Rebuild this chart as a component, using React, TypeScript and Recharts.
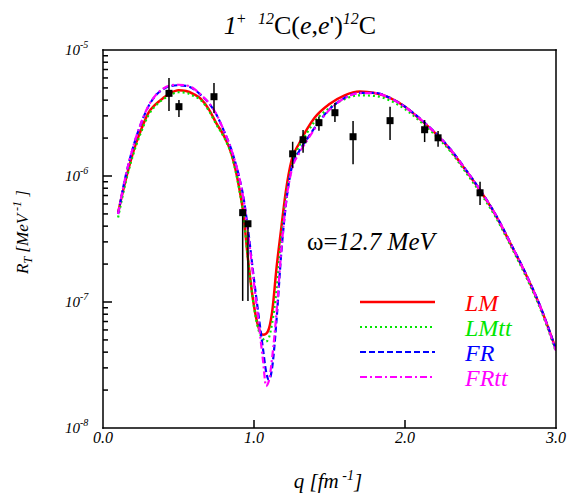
import React from "react";
import { ComposedChart, Line, Scatter, ErrorBar, XAxis, YAxis } from "recharts";

const Q = [0.1, 0.15, 0.2, 0.25, 0.3, 0.35, 0.4, 0.45, 0.5, 0.55, 0.6, 0.65, 0.7, 0.75, 0.8, 0.85, 0.9, 0.93, 0.96, 1.0, 1.03, 1.06, 1.08, 1.1, 1.12, 1.15, 1.18, 1.21, 1.25, 1.3, 1.35, 1.4, 1.5, 1.6, 1.7, 1.8, 1.9, 2.0, 2.1, 2.2, 2.3, 2.4, 2.5, 2.6, 2.7, 2.8, 2.9, 3.0];
const LM = [5.13e-7, 9.3e-7, 1.55e-6, 2.29e-6, 3.16e-6, 3.72e-6, 4.17e-6, 4.57e-6, 4.79e-6, 4.73e-6, 4.47e-6, 4.07e-6, 3.39e-6, 2.63e-6, 2.09e-6, 1.51e-6, 8.3e-7, 5.0e-7, 2.2e-7, 9.3e-8, 6.3e-8, 5.5e-8, 5.6e-8, 6.2e-8, 8.3e-8, 1.9e-7, 3.8e-7, 7.4e-7, 1.35e-6, 1.82e-6, 2.34e-6, 2.88e-6, 3.72e-6, 4.37e-6, 4.68e-6, 4.55e-6, 4.17e-6, 3.55e-6, 2.82e-6, 2.19e-6, 1.62e-6, 1.12e-6, 7.6e-7, 4.9e-7, 2.88e-7, 1.66e-7, 8.9e-8, 4.2e-8];
const LMtt = [4.68e-7, 8.9e-7, 1.48e-6, 2.19e-6, 3.02e-6, 3.63e-6, 4.07e-6, 4.42e-6, 4.62e-6, 4.57e-6, 4.32e-6, 3.98e-6, 3.31e-6, 2.57e-6, 2.04e-6, 1.48e-6, 8.1e-7, 4.9e-7, 2.19e-7, 9.1e-8, 6.0e-8, 5.1e-8, 4.85e-8, 5.25e-8, 6.8e-8, 1.26e-7, 3.2e-7, 6.6e-7, 1.2e-6, 1.74e-6, 2.19e-6, 2.69e-6, 3.47e-6, 4.07e-6, 4.37e-6, 4.32e-6, 3.98e-6, 3.39e-6, 2.72e-6, 2.11e-6, 1.57e-6, 1.08e-6, 7.3e-7, 4.73e-7, 2.79e-7, 1.6e-7, 8.6e-8, 4.0e-8];
const FR = [5.0e-7, 1.0e-6, 1.7e-6, 2.57e-6, 3.55e-6, 4.37e-6, 4.9e-6, 5.19e-6, 5.25e-6, 5.19e-6, 4.9e-6, 4.37e-6, 3.8e-6, 3.09e-6, 2.29e-6, 1.62e-6, 1.0e-6, 6.8e-7, 3.8e-7, 1.51e-7, 7.9e-8, 4.2e-8, 2.8e-8, 2.4e-8, 3.0e-8, 7.4e-8, 2.4e-7, 5.75e-7, 1.17e-6, 1.58e-6, 1.95e-6, 2.4e-6, 3.39e-6, 4.17e-6, 4.57e-6, 4.57e-6, 4.17e-6, 3.55e-6, 2.85e-6, 2.21e-6, 1.64e-6, 1.135e-6, 7.67e-7, 4.95e-7, 2.92e-7, 1.68e-7, 9.0e-8, 4.2e-8];
const FRtt = [5.0e-7, 1.0e-6, 1.71e-6, 2.6e-6, 3.58e-6, 4.4e-6, 4.95e-6, 5.24e-6, 5.3e-6, 5.24e-6, 4.95e-6, 4.4e-6, 3.82e-6, 3.1e-6, 2.3e-6, 1.62e-6, 1.0e-6, 6.6e-7, 3.6e-7, 1.4e-7, 7.0e-8, 3.4e-8, 2.15e-8, 2.4e-8, 3.6e-8, 8.5e-8, 2.5e-7, 5.9e-7, 1.12e-6, 1.52e-6, 1.9e-6, 2.35e-6, 3.35e-6, 4.15e-6, 4.55e-6, 4.55e-6, 4.15e-6, 3.53e-6, 2.84e-6, 2.2e-6, 1.63e-6, 1.13e-6, 7.65e-7, 4.93e-7, 2.9e-7, 1.67e-7, 8.9e-8, 4.1e-8];

const EXP_Q = [0.437, 0.503, 0.735, 0.925, 0.96, 1.256, 1.325, 1.43, 1.536, 1.656, 1.901, 2.13, 2.219, 2.497];
const EXP_R = [4.53e-6, 3.55e-6, 4.26e-6, 5.12e-7, 4.18e-7, 1.5e-6, 1.94e-6, 2.65e-6, 3.18e-6, 2.05e-6, 2.75e-6, 2.33e-6, 2.01e-6, 7.36e-7];
const EXP_LO = [3.28e-6, 2.94e-6, 3.16e-6, 1.02e-7, 1.02e-7, 1.16e-6, 1.53e-6, 2.29e-6, 2.68e-6, 1.24e-6, 1.93e-6, 1.86e-6, 1.71e-6, 5.89e-7];
const EXP_HI = [6.0e-6, 4.01e-6, 5.47e-6, 5.4e-7, 4.4e-7, 1.87e-6, 2.32e-6, 2.96e-6, 3.79e-6, 2.73e-6, 3.55e-6, 2.78e-6, 2.28e-6, 9.01e-7];

const X_TICKS = [0, 1, 2, 3];
const Y_MAJOR = [1e-8, 1e-7, 1e-6, 1e-5];
const Y_TICKS: number[] = [];
[1e-8, 1e-7, 1e-6].forEach((d) => {
  for (let m = 1; m <= 9; m++) Y_TICKS.push(d * m);
});
Y_TICKS.push(1e-5);

const curveData = Q.map((q, i) => ({ q, LM: LM[i], LMtt: LMtt[i], FR: FR[i], FRtt: FRtt[i] }));
const expData = EXP_Q.map((q, i) => ({ q, r: EXP_R[i], err: [EXP_R[i] - EXP_LO[i], EXP_HI[i] - EXP_R[i]] }));

const FONT = "'Liberation Serif', 'DejaVu Serif', serif";
const W = 569;
const H = 499;
const PL = 103;
const PR = 556;
const PT = 50;
const PB = 428;
const T = 1.5; // frame/tick thickness (drawn as filled rects)

const isMajor = (v: number) => {
  const e = Math.round(Math.log10(v));
  return Math.abs(v - Math.pow(10, e)) / v < 1e-6;
};

const BottomTick = (props: any) => {
  const { x, y, payload } = props;
  const v = payload.value;
  return (
    <g>
      {v > 0 && v < 3 && <rect x={x - T / 2} y={y - 8} width={T} height={8} fill="#000" />}
      <text x={x} y={y + 15} textAnchor="middle" fontFamily={FONT} fontStyle="italic" fontSize={16} fill="#000">
        {v.toFixed(1)}
      </text>
    </g>
  );
};

const TopTick = (props: any) => {
  const { x, y, payload } = props;
  const v = payload.value;
  if (!(v > 0 && v < 3)) return <g />;
  return <rect x={x - T / 2} y={y} width={T} height={8} fill="#000" />;
};

const LeftTick = (props: any) => {
  const { x, y, payload } = props;
  const v = payload.value;
  const major = isMajor(v);
  const e = Math.round(Math.log10(v));
  return (
    <g>
      {v > 1e-8 * 1.01 && v < 1e-5 * 0.99 && (
        <rect x={x} y={y - T / 2} width={major ? 9 : 5} height={T} fill="#000" />
      )}
      {major && (
        <text x={x - 38} y={y + 5} textAnchor="start" fontFamily={FONT} fontStyle="italic" fontSize={15} fill="#000">
          10
          <tspan dy={-7} fontSize={10}>{String(e)}</tspan>
        </text>
      )}
    </g>
  );
};

const RightTick = (props: any) => {
  const { x, y, payload } = props;
  const v = payload.value;
  if (!(v > 1e-8 * 1.01 && v < 1e-5 * 0.99)) return <g />;
  return <rect x={x - 7} y={y - T / 2} width={7} height={T} fill="#000" />;
};

const Square = (props: any) => {
  const { cx, cy } = props;
  if (cx == null || cy == null) return <g />;
  return <rect x={cx - 3.5} y={cy - 3.5} width={7} height={7} fill="#000" />;
};

const legendItems = [
  { name: "LM", color: "#ff0000", dash: undefined as string | undefined, w: 2.5 },
  { name: "LMtt", color: "#00e600", dash: "2 3", w: 2.2 },
  { name: "FR", color: "#0000ff", dash: "6 3", w: 2.2 },
  { name: "FRtt", color: "#ff00ff", dash: "7 3 2 3", w: 2.2 },
];

export default function App() {
  return (
    <div style={{ position: "absolute", left: 0, top: 0, width: W, height: H, overflow: "hidden", background: "#fff" }}>
      <ComposedChart width={W} height={H} margin={{ top: PT, right: W - PR, left: 0, bottom: 0 }}>
        <XAxis
          xAxisId={0}
          dataKey="q"
          type="number"
          domain={[0, 3]}
          ticks={X_TICKS}
          interval={0}
          allowDataOverflow
          height={H - PB}
          tickSize={0}
          tickMargin={0}
          tickLine={false}
          axisLine={false}
          tick={BottomTick}
        />
        <XAxis
          xAxisId="t"
          orientation="top"
          dataKey="q"
          type="number"
          domain={[0, 3]}
          ticks={X_TICKS}
          interval={0}
          allowDataOverflow
          height={0}
          tickSize={0}
          tickMargin={0}
          tickLine={false}
          axisLine={false}
          tick={TopTick}
        />
        <YAxis
          yAxisId={0}
          scale="log"
          type="number"
          domain={[1e-8, 1e-5]}
          ticks={Y_TICKS}
          interval={0}
          allowDataOverflow
          width={PL}
          tickSize={0}
          tickMargin={0}
          tickLine={false}
          axisLine={false}
          tick={LeftTick}
        />
        <YAxis
          yAxisId="r"
          orientation="right"
          scale="log"
          type="number"
          domain={[1e-8, 1e-5]}
          ticks={Y_MAJOR}
          interval={0}
          allowDataOverflow
          width={0}
          tickSize={0}
          tickMargin={0}
          tickLine={false}
          axisLine={false}
          tick={RightTick}
        />
        <Line data={curveData} dataKey="LM" type="monotone" stroke="#ff0000" strokeWidth={2.5} dot={false} isAnimationActive={false} />
        <Line data={curveData} dataKey="LMtt" type="monotone" stroke="#00e600" strokeWidth={2.2} strokeDasharray="2 3" dot={false} isAnimationActive={false} />
        <Line data={curveData} dataKey="FR" type="monotone" stroke="#0000ff" strokeWidth={2.2} strokeDasharray="6 3" dot={false} isAnimationActive={false} />
        <Line data={curveData} dataKey="FRtt" type="monotone" stroke="#ff00ff" strokeWidth={2.2} strokeDasharray="7 3 2 3" dot={false} isAnimationActive={false} />
        <Scatter data={expData} dataKey="r" shape={Square} isAnimationActive={false}>
          <ErrorBar dataKey="err" direction="y" width={0} stroke="#000" strokeWidth={1.5} />
        </Scatter>
      </ComposedChart>
      <svg width={W} height={H} style={{ position: "absolute", left: 0, top: 0, pointerEvents: "none" }}>
        <rect x={PL - T / 2} y={PT - T / 2} width={PR - PL + T} height={T} fill="#000" />
        <rect x={PL - T / 2} y={PB - T / 2} width={PR - PL + T} height={T} fill="#000" />
        <rect x={PL - T / 2} y={PT - T / 2} width={T} height={PB - PT + T} fill="#000" />
        <rect x={PR - T / 2} y={PT - T / 2} width={T} height={PB - PT + T} fill="#000" />
        <text x={300} y={34} textAnchor="middle" fontFamily={FONT} fontSize={26} fill="#000">
          <tspan fontStyle="italic">1</tspan>
          <tspan dy={-10} fontSize={16}>+</tspan>
          <tspan dx={12} fontSize={16} fontStyle="italic">12</tspan>
          <tspan dy={10}>C(</tspan>
          <tspan fontStyle="italic">e</tspan>
          <tspan>,</tspan>
          <tspan fontStyle="italic">e</tspan>
          <tspan>')</tspan>
          <tspan dy={-10} fontSize={16} fontStyle="italic">12</tspan>
          <tspan dy={10}>C</tspan>
        </text>
        <text x={307} y={250} fontFamily={FONT} fontSize={25} fill="#000">
          ω=<tspan fontStyle="italic">12.7 MeV</tspan>
        </text>
        <text
          transform="translate(28,232) rotate(-90)"
          textAnchor="middle"
          fontFamily={FONT}
          fontStyle="italic"
          fontSize={17}
          fill="#000"
        >
          R<tspan dy={4} fontSize={12}>T</tspan>
          <tspan dy={-4}> [MeV</tspan>
          <tspan dy={-7} fontSize={12}> -1</tspan>
          <tspan dy={7}> ]</tspan>
        </text>
        <text x={328} y={488} textAnchor="middle" fontFamily={FONT} fontStyle="italic" fontSize={21} fill="#000">
          q [fm<tspan dy={-8} fontSize={14}> -1</tspan>
          <tspan dy={8}>]</tspan>
        </text>
        {legendItems.map((it, i) => {
          const y = 302 + i * 25;
          return (
            <g key={it.name}>
              <line x1={360} x2={435} y1={y} y2={y} stroke={it.color} strokeWidth={it.w} strokeDasharray={it.dash} />
              <text x={465} y={y + 9} fontFamily={FONT} fontStyle="italic" fontSize={24} fill={it.color}>
                {it.name}
              </text>
            </g>
          );
        })}
      </svg>
    </div>
  );
}
